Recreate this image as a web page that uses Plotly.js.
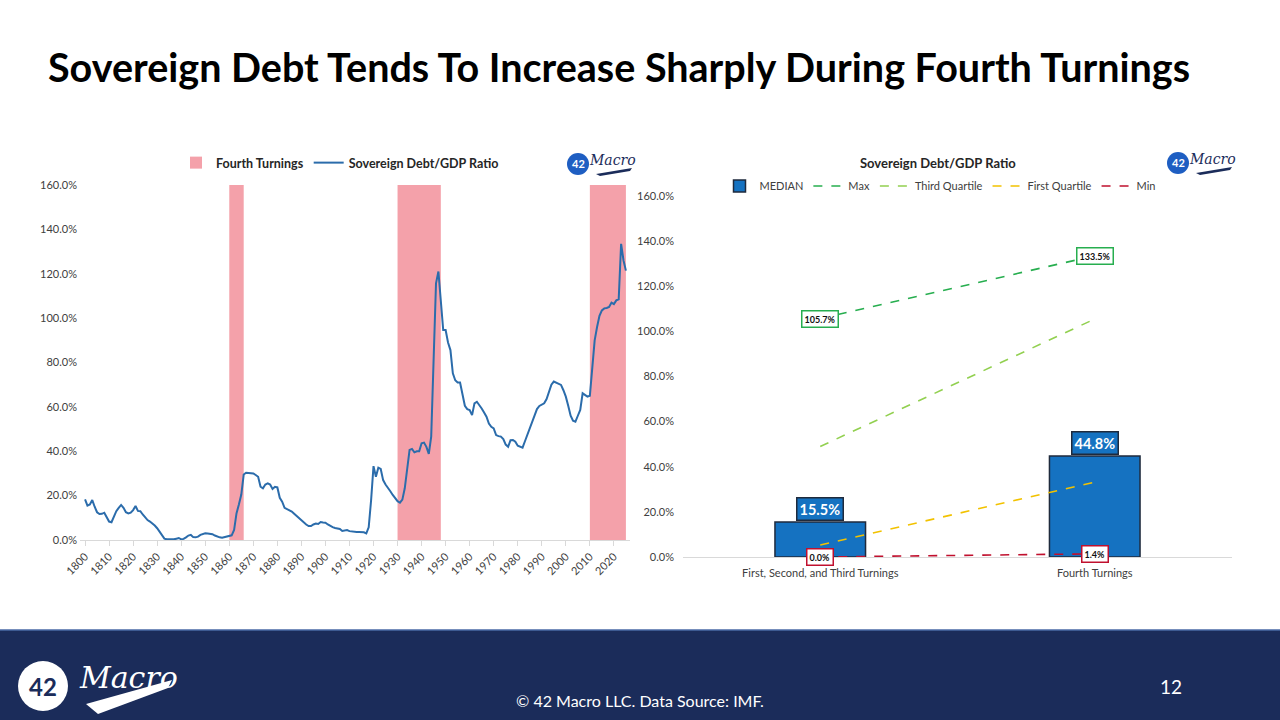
<!DOCTYPE html>
<html>
<head>
<meta charset="utf-8">
<script src="https://cdn.plot.ly/plotly-3.0.1.min.js"></script>
<style>
  html, body { margin: 0; padding: 0; background: #ffffff; }
  #chart { width: 1280px; height: 720px; }
</style>
</head>
<body>
<div id="chart"></div>
<script>
// ---------------- DATA ----------------
// Left chart: annual sovereign debt / GDP ratio (%), starting 1800
const debtStartYear = 1800;
const debtRatio = [
  18.3, 15.5, 16.0, 18.0, 15.0, 12.5, 11.7, 11.8, 12.3, 10.0,   // 1800s
  8.3, 8.0, 10.5, 13.0, 14.5, 15.8, 14.5, 12.5, 12.0, 12.3,     // 1810s
  13.5, 15.3, 13.1, 13.0, 11.5, 10.2, 9.0, 8.3, 7.5, 6.5,       // 1820s
  5.3, 3.8, 2.0, 0.6, 0.3, 0.2, 0.2, 0.3, 0.6, 0.9,             // 1830s
  0.3, 0.5, 1.2, 2.0, 2.3, 1.3, 1.2, 1.5, 2.3, 2.8,             // 1840s
  3.0, 2.9, 2.7, 2.6, 2.0, 1.5, 1.2, 1.0, 1.3, 1.7,             // 1850s
  1.9, 2.1, 4.5, 12.0, 16.0, 20.5, 29.5, 30.3, 30.2, 30.0,      // 1860s
  30.0, 29.3, 28.5, 24.0, 23.3, 25.0, 25.5, 25.0, 23.0, 24.0,   // 1870s
  23.7, 19.0, 17.3, 14.5, 14.0, 13.5, 12.8, 11.8, 10.8, 10.0,   // 1880s
  9.0, 8.0, 7.0, 6.3, 6.3, 7.0, 7.4, 7.2, 8.1, 7.9,             // 1890s
  7.8, 7.0, 6.2, 5.8, 5.4, 5.2, 5.0, 4.1, 4.3, 4.5,             // 1900s
  4.0, 3.8, 3.7, 3.6, 3.6, 3.6, 3.5, 3.0, 5.7, 18.0,            // 1910s
  33.3, 28.5, 32.6, 32.0, 27.0, 25.0, 23.7, 22.0, 20.3, 18.8,   // 1920s
  17.5, 16.8, 18.2, 23.3, 33.0, 40.6, 41.0, 39.5, 40.0, 40.0,   // 1930s
  43.6, 43.9, 42.0, 38.8, 46.6, 78.0, 115.7, 121.0, 108.0, 94.6,// 1940s
  94.6, 89.0, 85.6, 75.1, 72.0, 71.0, 71.0, 66.0, 60.5, 59.0,   // 1950s
  58.6, 56.3, 61.6, 62.3, 61.0, 59.3, 57.5, 55.6, 52.5, 51.0,   // 1960s
  50.3, 47.3, 46.8, 46.6, 45.5, 43.0, 42.0, 45.0, 45.1, 44.3,   // 1970s
  42.5, 42.0, 41.6, 44.5, 47.5, 50.0, 53.0, 56.5, 59.0, 60.4,   // 1980s
  61.0, 61.6, 63.5, 66.4, 70.0, 71.4, 71.0, 70.5, 69.9, 67.5,   // 1990s
  64.6, 60.5, 56.0, 53.8, 53.3, 56.0, 58.6, 66.1, 65.5, 64.6,   // 2000s
  65.0, 78.0, 90.0, 96.0, 101.0, 103.5, 104.4, 104.6, 105.0, 107.0, // 2010s
  106.3, 108.0, 108.5, 133.5, 126.0, 121.4                      // 2020s
];
const debtYears = debtRatio.map((_, i) => debtStartYear + i);

// Fourth Turning periods (shaded)
const turningStart = [1860, 1930, 2010];
const turningEnd   = [1866, 1948, 2025];
const turningTop   = [160, 160, 160];

// Right chart: summary statistics by period
const periods     = ["First, Second, and Third Turnings", "Fourth Turnings"];
const medianVals  = [15.5, 44.8];
const maxVals     = [105.7, 133.5];
const q3Vals      = [49.0, 105.5];
const q1Vals      = [5.3, 33.2];
const minVals     = [0.0, 1.4];

// ---------------- HELPERS ----------------
const W = 1280, H = 720;
const px = x => x / W;
const py = y => 1 - y / H;
const pathPx = pts => pts.map(p => (p[0] === 'Z' ? 'Z' : p[0] + ' ' + px(p[1]) + ',' + py(p[2]))).join(' ');

const FONT = "Lato, 'Liberation Sans', sans-serif";
const NAVY = "#1b2c5a";
const LOGO_BLUE = "#1e5ec2";

// ---------------- TRACES ----------------
const traces = [
  {
    type: 'bar', name: 'Fourth Turnings', legend: 'legend',
    x: turningStart.map((s, i) => (s + turningEnd[i]) / 2),
    width: turningStart.map((s, i) => turningEnd[i] - s),
    y: turningTop,
    marker: { color: '#f4a1aa', line: { width: 0 } },
    xaxis: 'x', yaxis: 'y', hoverinfo: 'skip'
  },
  {
    type: 'scatter', mode: 'lines', name: 'Sovereign Debt/GDP Ratio', legend: 'legend',
    x: debtYears, y: debtRatio,
    line: { color: '#2b6cab', width: 2 },
    xaxis: 'x', yaxis: 'y', hoverinfo: 'skip'
  },
  {
    type: 'bar', name: 'MEDIAN', legend: 'legend2',
    x: periods, y: medianVals,
    marker: { color: '#1572c1', line: { color: '#1f2a3c', width: 1.5 } },
    xaxis: 'x2', yaxis: 'y2', hoverinfo: 'skip'
  },
  {
    type: 'scatter', mode: 'lines', name: 'Max', legend: 'legend2',
    x: periods, y: maxVals,
    line: { color: '#27ae4f', width: 1.6, dash: 'dash' },
    xaxis: 'x2', yaxis: 'y2', hoverinfo: 'skip'
  },
  {
    type: 'scatter', mode: 'lines', name: 'Third Quartile', legend: 'legend2',
    x: periods, y: q3Vals,
    line: { color: '#92d050', width: 1.6, dash: 'dash' },
    xaxis: 'x2', yaxis: 'y2', hoverinfo: 'skip'
  },
  {
    type: 'scatter', mode: 'lines', name: 'First Quartile', legend: 'legend2',
    x: periods, y: q1Vals,
    line: { color: '#f2c200', width: 1.6, dash: 'dash' },
    xaxis: 'x2', yaxis: 'y2', hoverinfo: 'skip'
  },
  {
    type: 'scatter', mode: 'lines', name: 'Min', legend: 'legend2',
    x: periods, y: minVals,
    line: { color: '#c0102e', width: 1.6, dash: 'dash' },
    xaxis: 'x2', yaxis: 'y2', hoverinfo: 'skip'
  }
];

// ---------------- ANNOTATIONS ----------------
const annotations = [];

// main title
annotations.push({
  xref: 'paper', yref: 'paper', x: px(46), y: py(66), xanchor: 'left', yanchor: 'middle',
  text: 'Sovereign Debt Tends To Increase Sharply During Fourth Turnings',
  showarrow: false, font: { family: FONT, size: 39.5, weight: 'bold', color: '#000000' }
});

// right chart title
annotations.push({
  xref: 'paper', yref: 'paper', x: px(938), y: py(163), xanchor: 'center', yanchor: 'middle',
  text: 'Sovereign Debt/GDP Ratio', showarrow: false,
  font: { family: FONT, size: 13, weight: 'bold', color: '#262626' }
});

// median labels
periods.forEach((p, i) => {
  annotations.push({
    xref: 'x2', yref: 'y2', x: p, y: medianVals[i], xanchor: 'center', yanchor: 'bottom',
    yshift: 1, text: medianVals[i].toFixed(1) + '%', showarrow: false,
    bgcolor: '#1572c1', bordercolor: '#1f2a3c', borderwidth: 1.5, borderpad: 2,
    font: { family: FONT, size: 14.5, weight: 'bold', color: '#ffffff' }
  });
});
// max labels
periods.forEach((p, i) => {
  annotations.push({
    xref: 'x2', yref: 'y2', x: p, y: maxVals[i], xanchor: 'center', yanchor: 'middle',
    text: maxVals[i].toFixed(1) + '%', showarrow: false,
    bgcolor: '#ffffff', bordercolor: '#27ae4f', borderwidth: 1.5, borderpad: 2,
    font: { family: FONT, size: 9, weight: 'bold', color: '#111111' }
  });
});
// min labels
periods.forEach((p, i) => {
  annotations.push({
    xref: 'x2', yref: 'y2', x: p, y: minVals[i], xanchor: 'center', yanchor: 'middle',
    text: minVals[i].toFixed(1) + '%', showarrow: false,
    bgcolor: '#ffffff', bordercolor: '#c0102e', borderwidth: 1.5, borderpad: 2,
    font: { family: FONT, size: 9, weight: 'bold', color: '#111111' }
  });
});

// logos (top small ones)
const shapes = [];
function smallLogo(cx, cy) {
  shapes.push({
    type: 'circle', xref: 'paper', yref: 'paper',
    x0: px(cx - 11), x1: px(cx + 11), y0: py(cy + 11), y1: py(cy - 11),
    fillcolor: LOGO_BLUE, line: { width: 0 }
  });
  annotations.push({
    xref: 'paper', yref: 'paper', x: px(cx), y: py(cy), xanchor: 'center', yanchor: 'middle',
    text: '42', showarrow: false, font: { family: FONT, size: 11, weight: 'bold', color: '#ffffff' }
  });
  annotations.push({
    xref: 'paper', yref: 'paper', x: px(cx + 34), y: py(cy - 4), xanchor: 'center', yanchor: 'middle',
    text: 'Macro', showarrow: false,
    font: { family: "'DejaVu Serif', serif", size: 14, style: 'italic', color: NAVY }
  });
  shapes.push({
    type: 'path', xref: 'paper', yref: 'paper', fillcolor: NAVY, line: { width: 0 },
    path: pathPx([['M', cx + 18, cy + 10], ['L', cx + 54, cy + 4], ['L', cx + 52, cy + 7], ['L', cx + 22, cy + 12], ['Z']])
  });
}
smallLogo(578, 164);
smallLogo(1178, 163);

// footer
shapes.push({
  type: 'rect', xref: 'paper', yref: 'paper', x0: 0, x1: 1, y0: 0, y1: py(630),
  fillcolor: NAVY, line: { width: 0 }, layer: 'below'
});
shapes.push({
  type: 'line', xref: 'paper', yref: 'paper', x0: 0, x1: 1, y0: py(630), y1: py(630),
  line: { color: '#4a6aa6', width: 1.5 }
});
shapes.push({
  type: 'circle', xref: 'paper', yref: 'paper',
  x0: px(18), x1: px(68), y0: py(711), y1: py(661),
  fillcolor: '#ffffff', line: { width: 0 }
});
shapes.push({
  type: 'path', xref: 'paper', yref: 'paper', fillcolor: '#ffffff', line: { width: 0 },
  path: pathPx([['M', 86, 704], ['L', 172, 680], ['L', 168, 688], ['L', 98, 714], ['Z']])
});
annotations.push({
  xref: 'paper', yref: 'paper', x: px(43), y: py(686), xanchor: 'center', yanchor: 'middle',
  text: '42', showarrow: false, font: { family: FONT, size: 24, weight: 'bold', color: NAVY }
});
annotations.push({
  xref: 'paper', yref: 'paper', x: px(128), y: py(677), xanchor: 'center', yanchor: 'middle',
  text: 'Macro', showarrow: false,
  font: { family: "'DejaVu Serif', serif", size: 30, style: 'italic', color: '#ffffff' }
});
annotations.push({
  xref: 'paper', yref: 'paper', x: px(640), y: py(700), xanchor: 'center', yanchor: 'middle',
  text: '© 42 Macro LLC. Data Source: IMF.', showarrow: false,
  font: { family: FONT, size: 16, color: '#ffffff' }
});
annotations.push({
  xref: 'paper', yref: 'paper', x: px(1171), y: py(686), xanchor: 'center', yanchor: 'middle',
  text: '12', showarrow: false, font: { family: FONT, size: 19, color: '#ffffff' }
});

// ---------------- LAYOUT ----------------
const tickFont = { family: FONT, size: 11, color: '#404040' };
const layout = {
  width: W, height: H,
  margin: { l: 0, r: 0, t: 0, b: 0 },
  paper_bgcolor: '#ffffff', plot_bgcolor: 'rgba(0,0,0,0)',
  font: { family: FONT, color: '#404040' },
  bargap: 0.67,
  showlegend: true,
  xaxis: {
    domain: [px(80), px(630)], range: [1797.9, 2026.7],
    tick0: 1800, dtick: 10, tickangle: -45,
    showline: true, linecolor: '#d9d9d9', linewidth: 1,
    ticks: 'outside', ticklen: 5, tickcolor: '#d9d9d9',
    showgrid: false, zeroline: false, tickfont: tickFont, anchor: 'y'
  },
  yaxis: {
    domain: [py(540), py(185)], range: [0, 160], dtick: 20,
    tickformat: '.1f', ticksuffix: '%',
    showgrid: false, zeroline: false, showline: false,
    tickfont: tickFont, anchor: 'x', ticklabelstandoff: 2
  },
  xaxis2: {
    domain: [px(683), px(1232)], type: 'category', range: [-0.5, 1.5],
    showline: true, linecolor: '#d9d9d9', linewidth: 1, ticks: '',
    showgrid: false, zeroline: false, tickfont: tickFont, anchor: 'y2',
    ticklabelstandoff: 6
  },
  yaxis2: {
    domain: [py(557), py(196)], range: [0, 160], dtick: 20,
    tickformat: '.1f', ticksuffix: '%',
    showgrid: false, zeroline: false, showline: false,
    tickfont: tickFont, anchor: 'x2', ticklabelstandoff: 8
  },
  legend: {
    orientation: 'h', x: px(340), xanchor: 'center', y: py(163), yanchor: 'middle',
    font: { family: FONT, size: 12.5, weight: 'bold', color: '#262626' },
    bgcolor: 'rgba(0,0,0,0)', itemwidth: 30, traceorder: 'normal'
  },
  legend2: {
    orientation: 'h', x: px(940), xanchor: 'center', y: py(186), yanchor: 'middle',
    font: { family: FONT, size: 11, color: '#404040' },
    bgcolor: 'rgba(0,0,0,0)', itemwidth: 30, traceorder: 'normal'
  },
  annotations: annotations,
  shapes: shapes
};

Plotly.newPlot('chart', traces, layout, { staticPlot: true, displayModeBar: false });
</script>
</body>
</html>
